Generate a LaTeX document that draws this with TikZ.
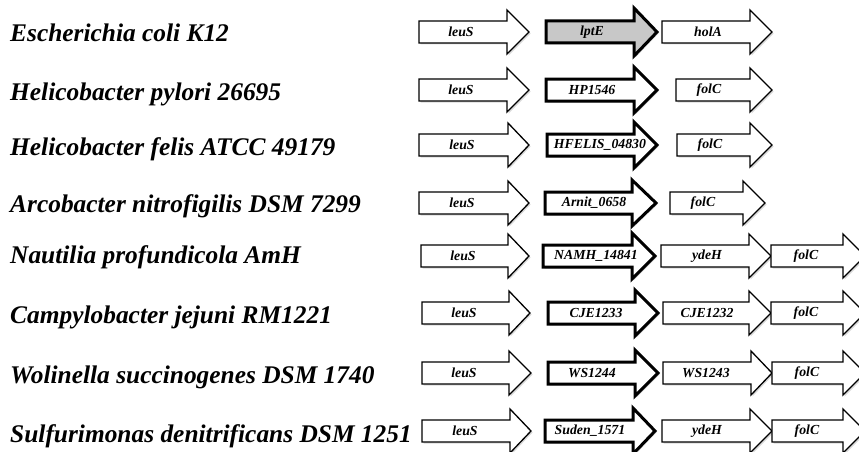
\documentclass[tikz,border=0pt]{standalone}
\usepackage{fontspec}
\setmainfont{Liberation Serif}
\usetikzlibrary{shadows}
\tikzset{
  x=1pt,y=-1pt,
  species/.style={anchor=base west,inner sep=0pt,font=\fontsize{25.4}{26}\selectfont\bfseries\itshape},
  genelabel/.style={anchor=center,inner sep=0pt,font=\fontsize{13.8}{14}\selectfont\bfseries\itshape},
  plaingene/.style={draw=black,line width=1.3pt,fill=white,line join=miter,
    drop shadow={shadow xshift=1.5pt,shadow yshift=-1.5pt,opacity=0.3}},
  keygene/.style={draw=black,line width=3pt,fill=white,line join=miter,
    drop shadow={shadow xshift=1.5pt,shadow yshift=-1.5pt,opacity=0.3}},
  greygene/.style={keygene,fill={rgb,255:red,200;green,200;blue,200}},
}
% #1 style, #2 name, #3 left x, #4 head start x, #5 tip x, #6 centre y, #7 head half-height, #8 label x, #9 label
\newcommand{\genearrowmk}[9]{%
  \draw[#1] (#3,#6-11) -- (#4,#6-11) -- (#4,#6-#7) -- (#5,#6) -- (#4,#6+#7) -- (#4,#6+11) -- (#3,#6+11) -- cycle;
  \node[genelabel] (#2) at (#8,#6) {#9};
}
\begin{document}
\begin{tikzpicture}
\useasboundingbox (0,0) rectangle (859,452);
% species names
\node[species] (sp1) at (10,42) {Escherichia coli K12};
\node[species] (sp2) at (10,100) {Helicobacter pylori 26695};
\node[species] (sp3) at (10,155) {Helicobacter felis ATCC 49179};
\node[species] (sp4) at (10,212) {Arcobacter nitrofigilis DSM 7299};
\node[species] (sp5) at (10,263) {Nautilia profundicola AmH};
\node[species] (sp6) at (10,323) {Campylobacter jejuni RM1221};
\node[species] (sp7) at (10,383) {Wolinella succinogenes DSM 1740};
\node[species] (sp8) at (10,442) {Sulfurimonas denitrificans DSM 1251};
% row 1
\genearrowmk{plaingene}{g1a}{419}{507}{529}{32}{22}{461}{leuS}
\genearrowmk{greygene}{g1b}{546}{634}{657}{32}{24}{592}{lptE}
\genearrowmk{plaingene}{g1c}{662}{750}{772}{32}{22}{708}{holA}
% row 2
\genearrowmk{plaingene}{g2a}{419}{507}{529}{90}{22}{461}{leuS}
\genearrowmk{keygene}{g2b}{546}{634}{657}{90}{23}{592}{HP1546}
\genearrowmk{plaingene}{g2c}{676}{750}{772}{90}{22}{709}{folC}
% row 3
\genearrowmk{plaingene}{g3a}{419}{508}{529}{145}{22}{462}{leuS}
\genearrowmk{keygene}{g3b}{547}{634}{657}{145}{23}{600}{HFELIS\_04830}
\genearrowmk{plaingene}{g3c}{677}{750}{772}{145}{22}{710}{folC}
% row 4
\genearrowmk{plaingene}{g4a}{419}{508}{529}{203}{22}{462}{leuS}
\genearrowmk{keygene}{g4b}{545}{632}{656}{203}{23}{594}{Arnit\_0658}
\genearrowmk{plaingene}{g4c}{670}{743}{765}{203}{22}{703}{folC}
% row 5
\genearrowmk{plaingene}{g5a}{421}{508}{529}{256}{22}{463}{leuS}
\genearrowmk{keygene}{g5b}{543}{632}{655}{256}{23}{596}{NAMH\_14841}
\genearrowmk{plaingene}{g5c}{661}{749}{771}{256}{22}{707}{ydeH}
\genearrowmk{plaingene}{g5d}{771}{843}{865}{256}{22}{806}{folC}
% row 6
\genearrowmk{plaingene}{g6a}{422}{509}{530}{313}{22}{464}{leuS}
\genearrowmk{keygene}{g6b}{548}{635}{658}{313}{23}{596}{CJE1233}
\genearrowmk{plaingene}{g6c}{663}{749}{771}{313}{22}{707}{CJE1232}
\genearrowmk{plaingene}{g6d}{771}{843}{865}{313}{22}{806}{folC}
% row 7
\genearrowmk{plaingene}{g7a}{422}{509}{531}{373}{22}{464}{leuS}
\genearrowmk{keygene}{g7b}{548}{635}{658}{373}{23}{592}{WS1244}
\genearrowmk{plaingene}{g7c}{663}{751}{772}{373}{22}{706}{WS1243}
\genearrowmk{plaingene}{g7d}{772}{843}{865}{373}{22}{807}{folC}
% row 8
\genearrowmk{plaingene}{g8a}{422}{510}{531}{431}{22}{465}{leuS}
\genearrowmk{keygene}{g8b}{545}{633}{655}{431}{23}{590}{Suden\_1571}
\genearrowmk{plaingene}{g8c}{662}{750}{772}{431}{22}{707}{ydeH}
\genearrowmk{plaingene}{g8d}{772}{843}{865}{431}{22}{807}{folC}
\end{tikzpicture}
\end{document}
